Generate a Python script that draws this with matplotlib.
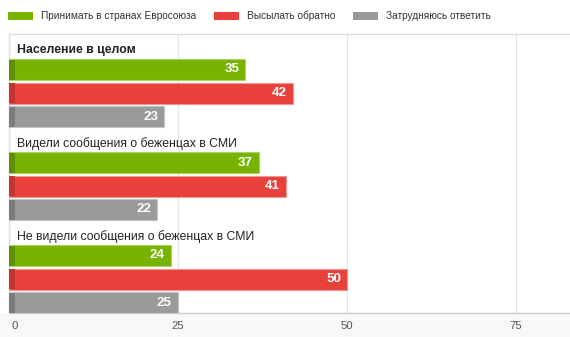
import matplotlib
matplotlib.use("Agg")
import matplotlib.pyplot as plt
from matplotlib.patches import Patch, Rectangle
import matplotlib.transforms as mtransforms

plt.rcParams['font.family'] = ['Liberation Sans', 'DejaVu Sans']

groups = ["Население в целом",
          "Видели сообщения о беженцах в СМИ",
          "Не видели сообщения о беженцах в СМИ"]
series = ["Принимать в странах Евросоюза", "Высылать обратно", "Затрудняюсь ответить"]
values = [
    [35, 37, 24],   # Принимать в странах Евросоюза
    [42, 41, 50],   # Высылать обратно
    [23, 22, 25],   # Затрудняюсь ответить
]
xticks = [0, 25, 50, 75]

colors = ["#77b300", "#e8413c", "#9a9a9a"]
dark = ["#5e8f00", "#c53530", "#7c7c7c"]
edges = ["#a9d45f", "#f39590", "#c4c4c4"]

W, H = 570, 337
fig = plt.figure(figsize=(W / 100, H / 100), dpi=100)
fig.patch.set_facecolor("white")

# light band under the plot area
fig.add_artist(Rectangle((0, 0), 1, 24 / H, transform=fig.transFigure,
                         facecolor="#f8f8f8", edgecolor="none", zorder=0))

ax = fig.add_axes([8.5 / W, 24 / H, 1 - 8.5 / W, (313 - 34) / H])
ax.set_facecolor("white")

group_h = 93.0
bar_off = [35.5, 59.0, 82.5]
bar_h = 21.0
xmax = (W - 8.5) / 6.77

ax.set_xlim(0, xmax)
ax.set_ylim(279, 0)

for s in range(3):
    ys = [g * group_h + bar_off[s] for g in range(3)]
    ax.barh(ys, values[s], height=bar_h, color=colors[s], edgecolor=edges[s],
            linewidth=0.8, zorder=3)
    ax.barh(ys, [0.9] * 3, height=bar_h - 1, color=dark[s], edgecolor="none", zorder=4)
    for y, v in zip(ys, values[s]):
        ax.annotate(str(v), xy=(v, y), xytext=(-6, 0), textcoords="offset pixels",
                    ha="right", va="center", color="white", fontweight="bold",
                    fontsize=9.6, zorder=5)

for g, name in enumerate(groups):
    ax.annotate(name, xy=(0, g * group_h + 16.5), xytext=(8.5, 0),
                textcoords="offset pixels", ha="left", va="center",
                fontsize=8.8, color="#222222",
                fontweight="bold" if g == 0 else "normal", zorder=5)

ax.set_xticks(xticks)
ax.set_xticklabels([str(t) for t in xticks])
ax.tick_params(axis="x", length=0, pad=6, labelsize=8.2, labelcolor="#555555")
ax.set_yticks([])
ax.grid(axis="x", color="#e6e6e6", linewidth=1, zorder=0)
ax.set_axisbelow(True)

# nudge the "0" label so it sits clear of the left edge
lbl0 = ax.get_xticklabels()[0]
lbl0.set_transform(lbl0.get_transform() + mtransforms.ScaledTranslation(6 / 100, 0, fig.dpi_scale_trans))

ax.spines["right"].set_visible(False)
ax.spines["top"].set_color("#dddddd")
ax.spines["left"].set_color("#dddddd")
ax.spines["bottom"].set_color("#cccccc")
for sp in ax.spines.values():
    sp.set_linewidth(1)

handles = [Patch(facecolor=c, edgecolor="none") for c in colors]
fig.legend(handles, series, loc="center left", bbox_to_anchor=(8 / W, 1 - 16 / H),
           ncol=3, frameon=False, fontsize=7.25, labelcolor="#333333",
           handlelength=2.5, handleheight=0.8, handletextpad=0.78,
           columnspacing=1.75, borderaxespad=0, borderpad=0)

fig.savefig("out.png", dpi=100, facecolor=fig.get_facecolor())
